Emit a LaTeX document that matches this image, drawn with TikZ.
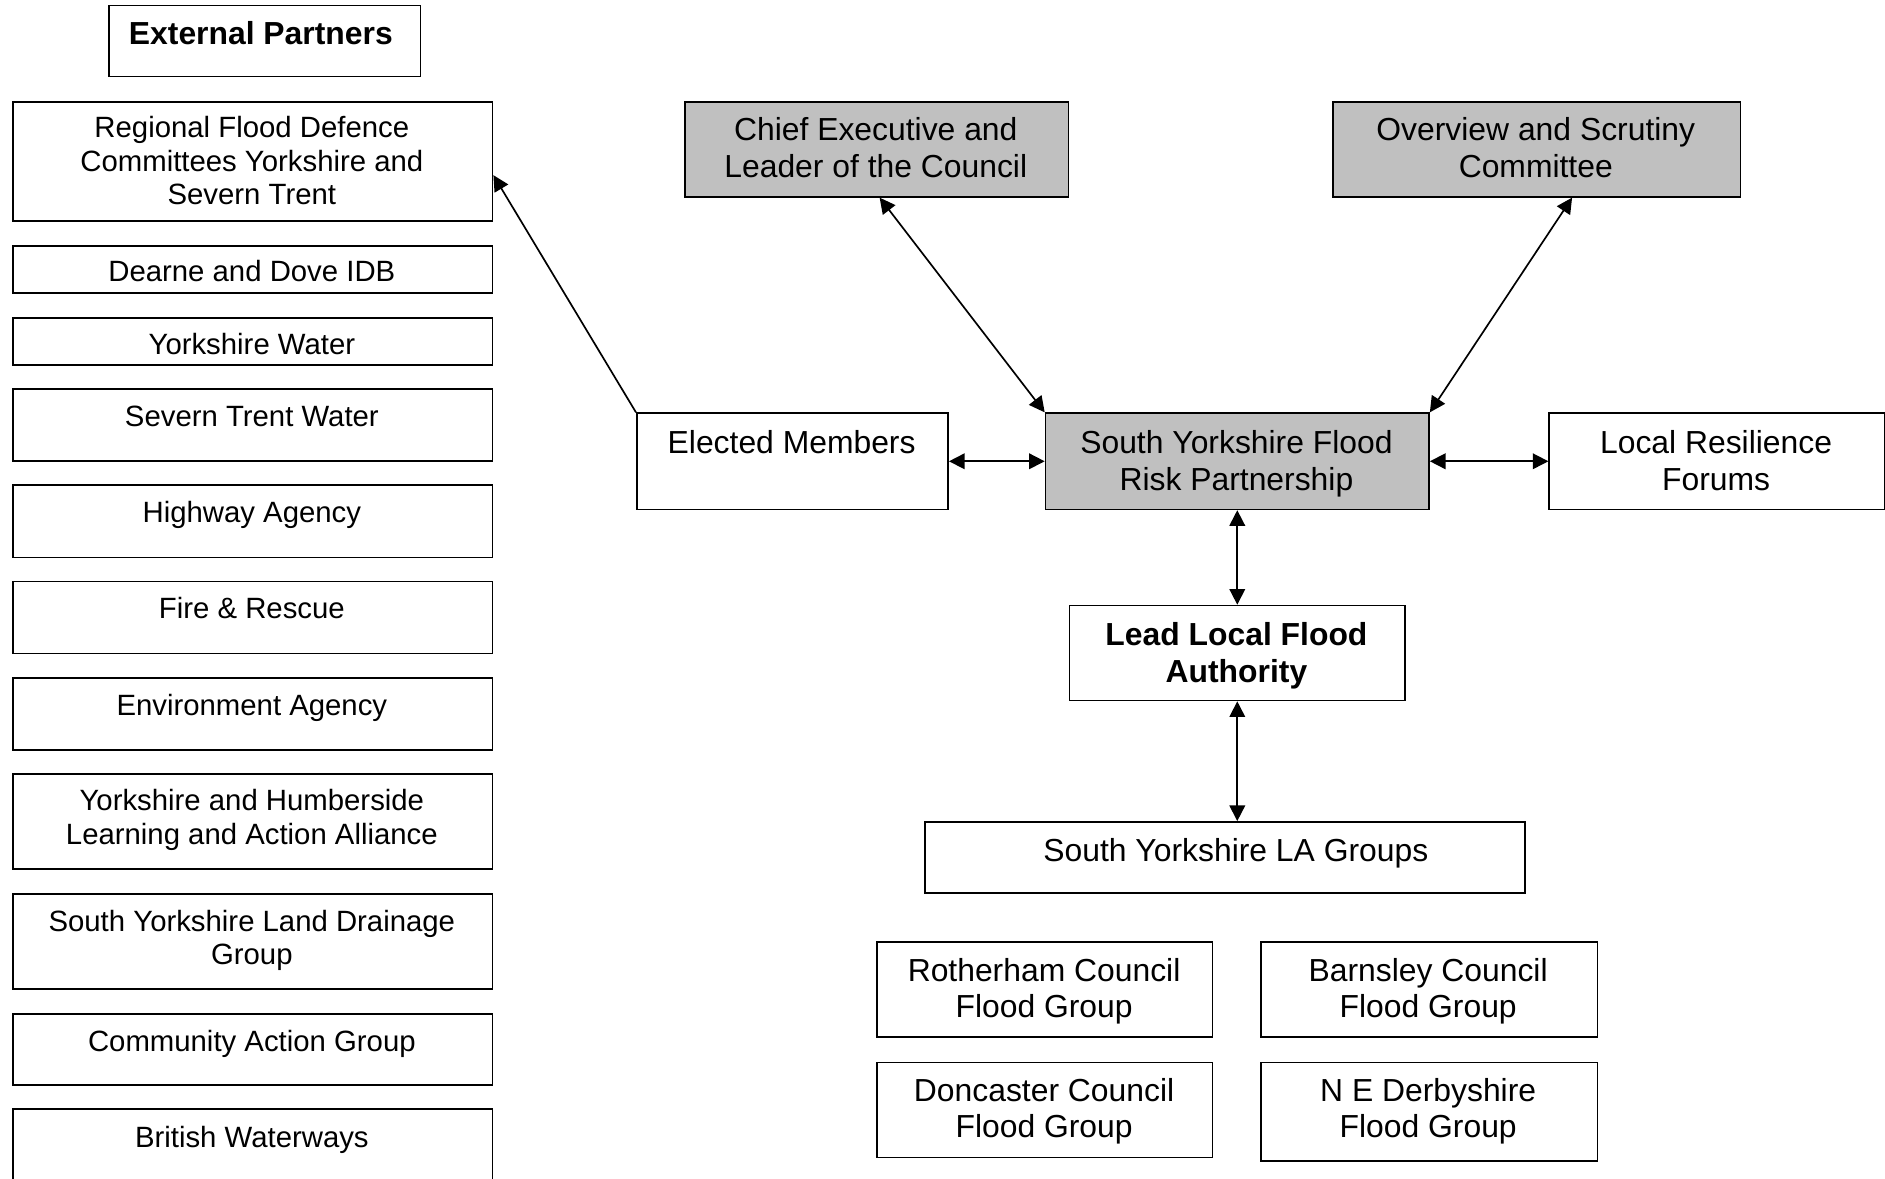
\documentclass[tikz,border=0pt]{standalone}
\usepackage{fontspec}
\setmainfont{Liberation Sans}
\usetikzlibrary{arrows.meta,calc}
\definecolor{boxgray}{HTML}{C0C0C0}
\begin{document}
\begin{tikzpicture}[x=1pt,y=-1pt,
 box/.style={draw=black, line width=1.4pt, inner sep=0pt, anchor=north west},
 gbox/.style={box, fill=boxgray},
 ltxt/.style={anchor=north, inner sep=0pt, align=center, font=\fontsize{24.4}{28}\selectfont, yshift=9.4pt},
 rtxt/.style={anchor=north, inner sep=0pt, align=center, font=\fontsize{26.5}{30.4}\selectfont, yshift=10.2pt},
 conn/.style={line width=1.4pt, {Triangle[length=13pt,width=13pt]}-{Triangle[length=13pt,width=13pt]}},
 oneway/.style={line width=1.4pt, -{Triangle[length=13pt,width=13pt]}},
]
\useasboundingbox (0,0) rectangle (1568,980);

% left column
\node[box, minimum width=259pt, minimum height=59pt] (ext) at (90,4) {};
\node[rtxt] (extt) at (217,28) {\bfseries External Partners};
\node[box, minimum width=399pt, minimum height=99pt] (reg) at (10,84) {};
\node[ltxt] (regt) at (209.5,106) {Regional Flood Defence\\Committees Yorkshire and\\Severn Trent};
\node[box, minimum width=399pt, minimum height=39pt] (dd) at (10,204) {};
\node[ltxt] (ddt) at (209.5,226) {Dearne and Dove IDB};
\node[box, minimum width=399pt, minimum height=39pt] (yw) at (10,264) {};
\node[ltxt] (ywt) at (209.5,286) {Yorkshire Water};
\node[box, minimum width=399pt, minimum height=60pt] (stw) at (10,323) {};
\node[ltxt] (stwt) at (209.5,347) {Severn Trent Water};
\node[box, minimum width=399pt, minimum height=60pt] (ha) at (10,403) {};
\node[ltxt] (hat) at (209.5,426) {Highway Agency};
\node[box, minimum width=399pt, minimum height=60pt] (fr) at (10,483) {};
\node[ltxt] (frt) at (209.5,506) {Fire \& Rescue};
\node[box, minimum width=399pt, minimum height=60pt] (ea) at (10,563) {};
\node[ltxt] (eat) at (209.5,587) {Environment Agency};
\node[box, minimum width=399pt, minimum height=79pt] (yh) at (10,643) {};
\node[ltxt] (yht) at (209.5,666) {Yorkshire and Humberside\\Learning and Action Alliance};
\node[box, minimum width=399pt, minimum height=79pt] (syl) at (10,743) {};
\node[ltxt] (sylt) at (209.5,766) {South Yorkshire Land Drainage\\Group};
\node[box, minimum width=399pt, minimum height=59pt] (cag) at (10,843) {};
\node[ltxt] (cagt) at (209.5,866) {Community Action Group};
\node[box, minimum width=399pt, minimum height=80pt] (bw) at (10,922) {};
\node[ltxt] (bwt) at (209.5,946) {British Waterways};

% right part
\node[gbox, minimum width=319pt, minimum height=79pt] (ce) at (569,84) {};
\node[rtxt] (cet) at (728.5,108) {Chief Executive and\\Leader of the Council};
\node[gbox, minimum width=339pt, minimum height=79pt] (os) at (1108,84) {};
\node[rtxt] (ost) at (1277.5,108) {Overview and Scrutiny\\Committee};
\node[box, minimum width=259pt, minimum height=80pt] (em) at (529,343) {};
\node[rtxt] (emt) at (658.5,368) {Elected Members};
\node[gbox, minimum width=319pt, minimum height=80pt] (syf) at (869,343) {};
\node[rtxt] (syft) at (1028.5,368) {South Yorkshire Flood\\Risk Partnership};
\node[box, minimum width=279pt, minimum height=80pt] (lrf) at (1288,343) {};
\node[rtxt] (lrft) at (1427.5,368) {Local Resilience\\Forums};
\node[box, minimum width=279pt, minimum height=79pt] (llfa) at (889,503) {};
\node[rtxt] (llfat) at (1028.5,528) {\bfseries Lead Local Flood\\\bfseries Authority};
\node[box, minimum width=499pt, minimum height=59pt] (lag) at (769,683) {};
\node[rtxt] (lagt) at (1028,707) {South Yorkshire LA Groups};
\node[box, minimum width=279pt, minimum height=79pt] (rot) at (729,783) {};
\node[rtxt] (rott) at (868.5,807) {Rotherham Council\\Flood Group};
\node[box, minimum width=280pt, minimum height=79pt] (bar) at (1048,783) {};
\node[rtxt] (bart) at (1188,807) {Barnsley Council\\Flood Group};
\node[box, minimum width=279pt, minimum height=79pt] (don) at (729,883) {};
\node[rtxt] (dont) at (868.5,907) {Doncaster Council\\Flood Group};
\node[box, minimum width=280pt, minimum height=82pt] (ned) at (1048,883) {};
\node[rtxt] (nedt) at (1188,907) {N E Derbyshire\\Flood Group};

% connectors
\draw[conn] (em.east) -- (syf.west);
\draw[conn] (syf.east) -- (lrf.west);
\draw[conn] (syf.south) -- (llfa.north);
\draw[conn] (llfa.south) -- (llfa.south |- lag.north);
\draw[conn] ($(ce.south)+(2.5,0)$) -- (syf.north west);
\draw[conn] ($(os.south)+(29.5,0)$) -- (syf.north east);
\draw[oneway] (em.north west) -- ($(reg.east)+(0,11.5)$);
\end{tikzpicture}
\end{document}
